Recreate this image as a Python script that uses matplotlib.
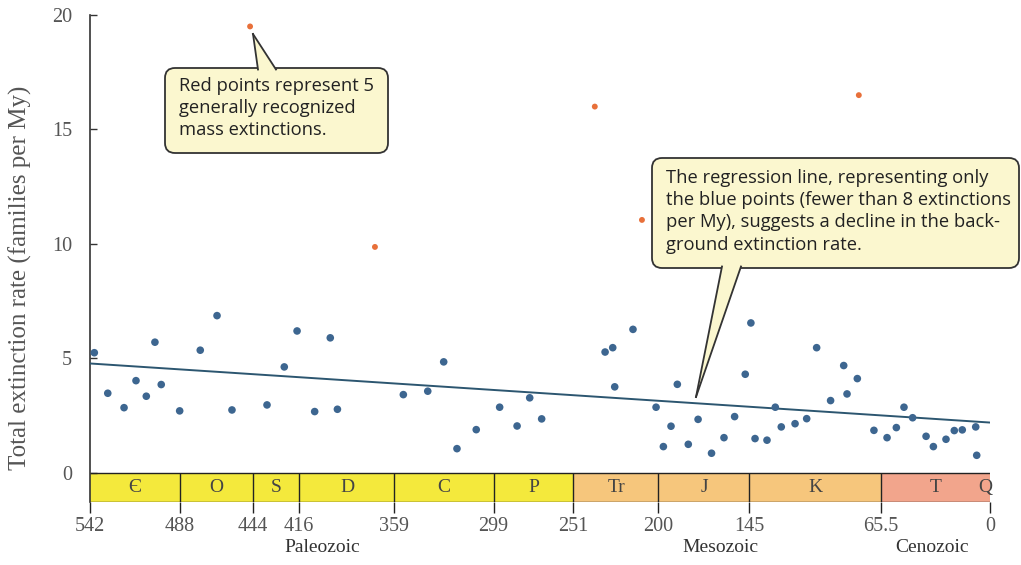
import matplotlib
matplotlib.use("Agg")
import matplotlib.pyplot as plt
from matplotlib.patches import Rectangle, FancyBboxPatch, Polygon
from matplotlib.lines import Line2D
from matplotlib.transforms import Affine2D
import numpy as np

# ---------------- data ----------------
blue_age = [539.4, 531.3, 521.5, 514.3, 508.1, 502.9, 499.1, 488.0, 475.6, 465.5,
            456.5, 435.4, 425.0, 417.3, 406.7, 397.3, 393.0, 353.3, 338.6, 329.0,
            321.0, 309.4, 295.3, 284.8, 277.2, 270.0, 231.8, 227.2, 215.0, 226.0,
            188.3, 201.1, 192.1, 196.7, 175.8, 181.7, 167.7, 160.2, 153.8, 147.4,
            144.0, 141.5, 134.3, 129.3, 125.7, 117.4, 110.4, 104.4, 96.0, 88.1,
            86.1, 79.9, 69.9, 62.0, 56.4, 51.8, 46.6, 38.5, 34.1, 26.5,
            21.5, 16.7, 8.6, 8.0]
blue_rate = [5.25, 3.48, 2.85, 4.03, 3.35, 5.71, 3.86, 2.71, 5.36, 6.87,
             2.75, 2.97, 4.63, 6.20, 2.68, 5.90, 2.78, 3.42, 3.57, 4.85,
             1.06, 1.89, 2.87, 2.05, 3.28, 2.36, 5.28, 5.47, 6.27, 3.76,
             3.87, 2.87, 2.04, 1.15, 2.34, 1.25, 0.86, 1.54, 2.46, 4.31,
             6.55, 1.50, 1.43, 2.87, 2.01, 2.15, 2.37, 5.47, 3.16, 4.69,
             3.45, 4.12, 1.86, 1.54, 1.98, 2.87, 2.41, 1.60, 1.15, 1.47,
             1.85, 1.88, 2.01, 0.77]

red_age = [445.6, 370.4, 238.0, 209.6, 79.0]
red_rate = [19.5, 9.87, 16.0, 11.05, 16.5]

reg_age = [542, 0]
reg_rate = [4.78, 2.2]

period_names = ['Є', 'O', 'S', 'D', 'C', 'P', 'Tr', 'J', 'K', 'T', 'Q']
period_start = [542, 488, 444, 416, 359, 299, 251, 200, 145, 65.5, 2.6]
period_end = [488, 444, 416, 359, 299, 251, 200, 145, 65.5, 2.6, 0]
period_era = ['P', 'P', 'P', 'P', 'P', 'P', 'M', 'M', 'M', 'C', 'C']
period_label_x = [515, 466, 430, 387, 329, 275, 225, 172, 105, 33, 3]

boundary_ticks = [542, 488, 444, 416, 359, 299, 251, 200, 145, 65.5, 0]
boundary_labels = ['542', '488', '444', '416', '359', '299', '251', '200', '145', '65.5', '0']

era_names = ['Paleozoic', 'Mesozoic', 'Cenozoic']
era_label_x = [402, 162.6, 35]

y_ticks = [0, 5, 10, 15, 20]

# ---------------- style ----------------
era_colors = {'P': '#f4e93c', 'M': '#f6c67c', 'C': '#f2a58c'}
serif = 'Liberation Serif'
sans = 'Open Sans'
grey = '#555555'

W, H = 1021, 565
fig = plt.figure(figsize=(W / 100, H / 100), dpi=100)
ax = fig.add_axes([90 / W, 1 - 502 / H, 900 / W, (502 - 15) / H])

band_bottom = -1.27
ax.set_xlim(542, 0)
ax.set_ylim(band_bottom, 20)

# period band
for name, s, e, era, lx in zip(period_names, period_start, period_end, period_era, period_label_x):
    ax.add_patch(Rectangle((s, band_bottom), e - s, -band_bottom,
                           facecolor=era_colors[era], edgecolor='none', zorder=1))
    ax.text(lx, band_bottom / 2, name, ha='center', va='center',
            fontsize=14, family=serif, color='#444444', zorder=3)
ax.hlines([0, band_bottom], 542, 0, color='#222222', lw=1.0, zorder=2)
ax.vlines(boundary_ticks[1:-1], band_bottom, 0, color='#222222', lw=1.0, zorder=2)

# regression line
ax.plot(reg_age, reg_rate, color='#2c5670', lw=1.4, zorder=4)

# points
ax.scatter(blue_age, blue_rate, s=30, color='#3d6690', edgecolor='none', zorder=5)
ax.scatter(red_age, red_rate, s=18, color='#e8703a', edgecolor='none', zorder=5)

# axes styling
for sp in ['top', 'right', 'bottom']:
    ax.spines[sp].set_visible(False)
ax.spines['left'].set_color('#333333')
ax.spines['left'].set_linewidth(1.2)
ax.set_yticks(y_ticks)
ax.set_yticklabels([str(v) for v in y_ticks], family=serif, fontsize=14.5, color=grey)
ax.tick_params(axis='y', direction='in', length=5, width=1, color='#333333', pad=13)
ax.set_xticks(boundary_ticks)
ax.set_xticklabels(boundary_labels, family=serif, fontsize=14.5, color=grey)
ax.tick_params(axis='x', direction='out', length=8, width=1, color='#222222', pad=3)
ax.set_ylabel('Total extinction rate (families per My)', family=serif,
              fontsize=18, color=grey)
ax.yaxis.set_label_coords(-0.064, 0.46)

for name, lx in zip(era_names, era_label_x):
    ax.text(lx, -0.076, name, transform=ax.get_xaxis_transform(), ha='center', va='top',
            family=serif, fontsize=14, color='#333333')

# ---------------- callouts (image-pixel coords) ----------------
pix = Affine2D().scale(1, -1).translate(0, H)
box_fc = '#fbf7cf'
box_ec = '#333333'


def callout(x0, y0, x1, y1, tip, base_a, base_b, lines, tx, ty):
    box = FancyBboxPatch((x0, y0), x1 - x0, y1 - y0,
                         boxstyle='round,pad=0,rounding_size=10',
                         facecolor=box_fc, edgecolor=box_ec, lw=1.3,
                         transform=pix, clip_on=False, zorder=10)
    fig.add_artist(box)
    poly = Polygon([base_a, tip, base_b], closed=True, facecolor=box_fc,
                   edgecolor='none', transform=pix, clip_on=False, zorder=11)
    fig.add_artist(poly)
    for b in (base_a, base_b):
        fig.add_artist(Line2D([b[0], tip[0]], [b[1], tip[1]], color=box_ec, lw=1.3,
                              transform=pix, zorder=12))
    fig.text(tx, ty, lines, transform=pix, ha='left', va='top', family=sans,
             fontsize=13.2, color='#222222', linespacing=1.3, zorder=13)


callout(165, 68, 388, 153, (253, 34), (258, 69.5), (276, 69.5),
        'Red points represent 5\ngenerally recognized\nmass extinctions.', 179, 77)
callout(652, 158, 1019, 268, (696, 397), (722, 266.5), (741, 266.5),
        'The regression line, representing only\nthe blue points (fewer than 8 extinctions\n'
        'per My), suggests a decline in the back-\nground extinction rate.', 666, 169)

fig.savefig('out.png', dpi=100)
